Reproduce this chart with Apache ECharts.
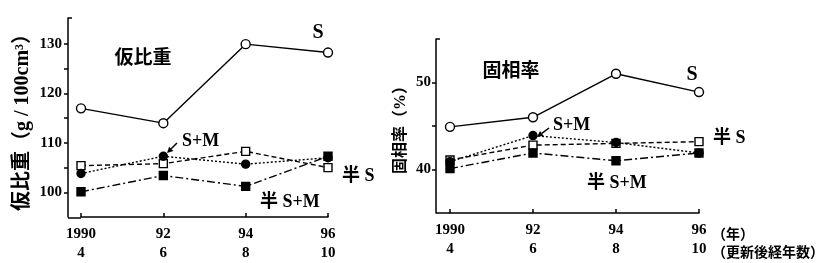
<!DOCTYPE html>
<html>
<head>
<meta charset="utf-8">
<script src="https://cdn.jsdelivr.net/npm/echarts@6/dist/echarts.min.js"></script>
<style>
html,body{margin:0;padding:0;background:#fff;}
#c{width:827px;height:263px;}
</style>
</head>
<body>
<div id="c"></div>
<script>
// ---- data ----
const yearLabels = ['1990', '92', '94', '96'];
const ageLabels = ['4', '6', '8', '10'];
// 仮比重 (g/100cm3)
const bulkS   = [117.0, 114.0, 130.0, 128.3];
const bulkSM  = [103.8, 107.3, 105.7, 107.0];
const bulkHS  = [105.4, 105.8, 108.3, 105.0];
const bulkHSM = [100.1, 103.4, 101.2, 107.3];
// 固相率 (%)
const solidS   = [44.9, 46.0, 51.0, 48.9];
const solidSM  = [40.9, 43.9, 43.1, 41.9];
const solidHS  = [41.1, 42.8, 43.0, 43.2];
const solidHSM = [40.1, 41.9, 41.0, 41.9];
const leftTicks = [100, 105, 110, 115, 120, 125, 130];
const leftTickLabels = [100, 110, 120, 130];
const rightTicks = [40, 45, 50];
const rightTickLabels = [40, 50];

const cats = yearLabels.map((y, i) => y + '\n' + ageLabels[i]);
const SERIF = '"Liberation Serif", "Times New Roman", serif';
const MIX = '"Liberation Serif", "Noto Sans CJK JP", serif';
const CJK = '"Noto Sans CJK JP", sans-serif';

function xAxisDef(gi) {
  return {
    type: 'category', gridIndex: gi, data: cats, boundaryGap: false,
    axisLine: { lineStyle: { color: '#000', width: 1.5 } },
    axisTick: { inside: true, length: 4, alignWithLabel: true, lineStyle: { color: '#000', width: 1.5 } },
    axisLabel: { color: '#000', fontFamily: SERIF, fontWeight: 'bold', fontSize: 15, lineHeight: 19, margin: 8, interval: 0 },
    splitLine: { show: false }
  };
}
function yAxisDef(gi, min, max, ticks, labels, name, nameSize, nameGap, offset, margin) {
  return {
    type: 'value', gridIndex: gi, min: min, max: max, interval: 5, offset: offset,
    name: name, nameLocation: 'middle', nameRotate: 90, nameGap: nameGap,
    nameTextStyle: { color: '#000', fontFamily: MIX, fontWeight: 'bold', fontSize: nameSize },
    axisLine: { show: true, lineStyle: { color: '#000', width: 1.5 } },
    axisTick: { show: true, inside: false, length: 4, customValues: ticks, lineStyle: { color: '#000', width: 1.5 } },
    axisLabel: { color: '#000', fontFamily: SERIF, fontWeight: 'bold', fontSize: 15, margin: margin, customValues: labels,
      formatter: v => (v % 10 === 0 ? String(v) : '') },
    splitLine: { show: false }
  };
}
function ser(gi, data, kind) {
  const base = { type: 'line', xAxisIndex: gi, yAxisIndex: gi, data: data, symbolSize: 8, animation: false,
    lineStyle: { color: '#000', width: 1.4 }, itemStyle: { color: '#000', borderColor: '#000', borderWidth: 1.4 } };
  if (kind === 'S') { base.symbol = 'circle'; base.itemStyle.color = '#fff'; base.symbolSize = 9; base.lineStyle.type = 'solid'; }
  if (kind === 'SM') { base.symbol = 'circle'; base.lineStyle.type = [2, 2]; base.z = 4; }
  if (kind === 'HS') { base.symbol = 'rect'; base.itemStyle.color = '#fff'; base.lineStyle.type = [5, 3]; }
  if (kind === 'HSM') { base.symbol = 'rect'; base.lineStyle.type = [8, 3, 2, 3]; }
  return base;
}
function txt(x, y, s, size, font, align) {
  return { type: 'text', x: x, y: y, style: { text: s, fill: '#000', font: 'bold ' + size + 'px ' + font, align: align || 'left', verticalAlign: 'middle' } };
}
function ln(x1, y1, x2, y2) {
  return { type: 'line', shape: { x1: x1, y1: y1, x2: x2, y2: y2 }, style: { stroke: '#000', lineWidth: 1.5 } };
}
function arrow(x1, y1, x2, y2) {
  const a = Math.atan2(y2 - y1, x2 - x1), L = 6, w = 3;
  const bx = x2 - L * Math.cos(a), by = y2 - L * Math.sin(a);
  return [ln(x1, y1, bx, by), { type: 'polygon', shape: { points: [[x2, y2], [bx + w * Math.sin(a), by - w * Math.cos(a)], [bx - w * Math.sin(a), by + w * Math.cos(a)]] }, style: { fill: '#000' } }];
}

const chart = echarts.init(document.getElementById('c'), null, { renderer: 'canvas' });
chart.setOption({
  backgroundColor: '#fff',
  animation: false,
  grid: [
    { left: 81, top: 18, width: 247, height: 200 },
    { left: 450, top: 39, width: 249, height: 174 }
  ],
  xAxis: [xAxisDef(0), xAxisDef(1)],
  yAxis: [
    yAxisDef(0, 95, 135.3, leftTicks, leftTickLabels, '仮比重（g / 100cm³）', 20, 35, 13, 6),
    yAxisDef(1, 35, 55, rightTicks, rightTickLabels, '固相率（%）', 16, 27, 14, 5)
  ],
  series: [
    ser(0, bulkS, 'S'), ser(0, bulkHS, 'HS'), ser(0, bulkHSM, 'HSM'), ser(0, bulkSM, 'SM'),
    ser(1, solidS, 'S'), ser(1, solidHS, 'HS'), ser(1, solidHSM, 'HSM'), ser(1, solidSM, 'SM')
  ],
  graphic: [
    ln(68, 18, 72, 18), ln(68, 218, 81, 218),
    ln(436, 39, 440, 39), ln(436, 213, 450, 213),
    txt(143, 57, '仮比重', 19, CJK, 'center'),
    txt(318, 33, 'S', 20, SERIF, 'center'),
    txt(182, 141, 'S+M', 18, SERIF),
    txt(342, 176, '半 S', 18, MIX),
    txt(260, 202, '半 S+M', 18, MIX),
    txt(511, 70, '固相率', 19, CJK, 'center'),
    txt(692, 75, 'S', 20, SERIF, 'center'),
    txt(553, 125, 'S+M', 18, SERIF),
    txt(713, 138, '半 S', 18, MIX),
    txt(587, 183, '半 S+M', 18, MIX),
    txt(712, 234, '（年）', 14, CJK),
    txt(712, 252, '（更新後経年数）', 14, CJK)
  ].concat(arrow(177, 143, 167, 153), arrow(549, 128, 537, 137))
});
</script>
</body>
</html>
